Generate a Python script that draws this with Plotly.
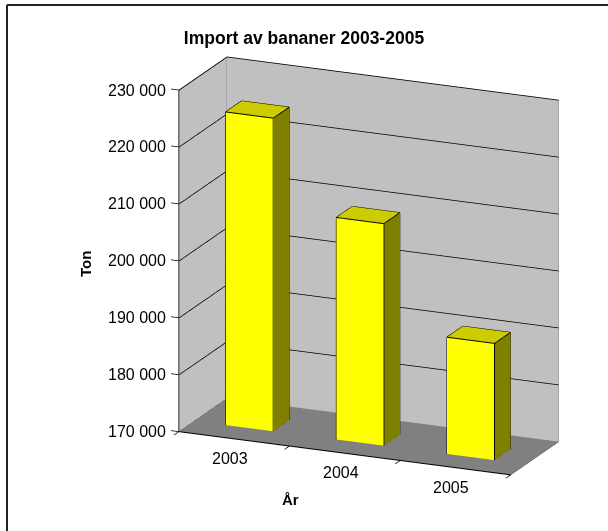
import plotly.graph_objects as go

# ---- data ----
years = ["2003", "2004", "2005"]
values = [225000, 209000, 190500]
y_ticks = [170000, 180000, 190000, 200000, 210000, 220000, 230000]
y_min, y_max = 170000, 230000
title = "Import av bananer 2003-2005"
x_title = "År"
y_title = "Ton"

FRONT = "#FFFF00"
TOP = "#CCCC00"
SIDE = "#808000"
WALL = "#C0C0C0"
FLOOR = "#808080"

n = len(years)
bar_w = 0.43
d0, d1 = 0.32, 0.65
FONT = "Liberation Sans, Arial, sans-serif"
LIGHT = dict(ambient=1, diffuse=0, specular=0, roughness=1, fresnel=0)

fig = go.Figure()


def lines(segs, color, width):
    ex, ey, ez = [], [], []
    for (a, b) in segs:
        ex += [a[0], b[0], None]
        ey += [a[1], b[1], None]
        ez += [a[2], b[2], None]
    fig.add_trace(go.Scatter3d(x=ex, y=ey, z=ez, mode="lines",
                               line=dict(color=color, width=width),
                               hoverinfo="skip", showlegend=False))


def quad(p, color):
    fig.add_trace(go.Mesh3d(
        x=[q[0] for q in p], y=[q[1] for q in p], z=[q[2] for q in p],
        i=[0, 0], j=[1, 2], k=[2, 3], color=color, flatshading=True,
        lighting=LIGHT, hoverinfo="skip", showscale=False))


# walls and floor
quad([(0, 0, y_min), (n, 0, y_min), (n, 1, y_min), (0, 1, y_min)], FLOOR)
quad([(0, 1, y_min), (n, 1, y_min), (n, 1, y_max), (0, 1, y_max)], WALL)
quad([(0, 0, y_min), (0, 1, y_min), (0, 1, y_max), (0, 0, y_max)], WALL)

# gridlines on the walls
eps = 0.004
grid = []
for v in y_ticks[1:]:
    grid.append(((eps, 0, v), (eps, 1 - eps, v)))
    grid.append(((eps, 1 - eps, v), (n, 1 - eps, v)))
lines(grid, "black", 1.5)

# wall edges
lines([((0, 0, y_max), (0, 1, y_max)), ((0, 1, y_max), (n, 1, y_max)),
       ((n, 1, y_max), (n, 1, y_min)), ((0, 1, y_min), (0, 1, y_max)),
       ((0, 1, y_min), (n, 1, y_min)), ((n, 1, y_min), (n, 0, y_min))],
      "#606060", 1.2)
# axis lines
lines([((0, 0, y_min), (0, 0, y_max)), ((0, 0, y_min), (n, 0, y_min)),
       ((0, 0, y_min), (0, 1, y_min))], "black", 2)

# scene ranges (padded a little so nothing sits exactly on a clip bound)
xr = [-0.08, n + 0.01]
yr = [-0.11, 1.01]
pad_z = 0.005 * (y_max - y_min)
zr = [y_min - pad_z, y_max + pad_z]

# tick marks
ticks = [((0, 0, v), (-0.07, 0, v)) for v in y_ticks]
ticks += [((b, 0, y_min), (b, -0.1, y_min)) for b in range(n + 1)]
lines(ticks, "black", 1.5)


def box(xc, val):
    x0, x1 = xc - bar_w / 2, xc + bar_w / 2
    z0, z1 = y_min, val
    X = [x0, x1, x1, x0, x0, x1, x1, x0]
    Y = [d0, d0, d1, d1, d0, d0, d1, d1]
    Z = [z0, z0, z0, z0, z1, z1, z1, z1]
    tris = [
        (0, 1, 5, FRONT), (0, 5, 4, FRONT),
        (4, 5, 6, TOP), (4, 6, 7, TOP),
        (1, 2, 6, SIDE), (1, 6, 5, SIDE),
        (0, 3, 7, SIDE), (0, 7, 4, SIDE),
        (3, 2, 6, FRONT), (3, 6, 7, FRONT),
        (0, 1, 2, TOP), (0, 2, 3, TOP),
    ]
    fig.add_trace(go.Mesh3d(
        x=X, y=Y, z=Z,
        i=[t[0] for t in tris], j=[t[1] for t in tris], k=[t[2] for t in tris],
        facecolor=[t[3] for t in tris], flatshading=True,
        lighting=LIGHT, hoverinfo="skip", showscale=False))
    edges = [(0, 1), (1, 2), (2, 3), (3, 0), (4, 5), (5, 6), (6, 7), (7, 4),
             (0, 4), (1, 5), (2, 6), (3, 7)]
    lines([((X[a], Y[a], Z[a]), (X[b], Y[b], Z[b])) for a, b in edges], "black", 2)


for i, v in enumerate(values):
    box(i + 0.5, v)

fmt = lambda v: f"{v:,}".replace(",", " ")

# tick labels as scene annotations (positioned by the 3D scales)
scene_ann = []
for v in y_ticks:
    scene_ann.append(dict(x=0, y=0, z=v, text=fmt(v), showarrow=False,
                          xanchor="right", yanchor="middle", xshift=-11,
                          font=dict(family=FONT, size=16, color="black")))
for i, yr_lbl in enumerate(years):
    scene_ann.append(dict(x=i + 0.5, y=0, z=y_min, text=yr_lbl, showarrow=False,
                          xanchor="center", yanchor="top", xshift=-4, yshift=-9,
                          font=dict(family=FONT, size=16, color="black")))

K = 1.49
hidden = dict(visible=False, showspikes=False)

fig.update_layout(
    width=608, height=531,
    margin=dict(l=0, r=0, t=0, b=0),
    paper_bgcolor="white",
    showlegend=False,
    hovermode=False,
    font=dict(family=FONT, size=16, color="black"),
    title=dict(text=f"<b>{title}</b>", x=0.5, xanchor="center", y=1 - 38 / 531,
               yanchor="middle", font=dict(size=17.5)),
    scene=dict(
        domain=dict(x=[0.192, 1.0], y=[0.0206, 0.9736]),
        aspectmode="manual",
        aspectratio=dict(x=(xr[1] - xr[0]) / n * K * 0.96,
                         y=(yr[1] - yr[0]) * 0.32 * K,
                         z=0.95 * K * (zr[1] - zr[0]) / (y_max - y_min)),
        camera=dict(eye=dict(x=0.76, y=-1.75, z=0.60), center=dict(x=0, y=0, z=0),
                    up=dict(x=0, y=0, z=1), projection=dict(type="orthographic")),
        xaxis=dict(range=xr, **hidden),
        yaxis=dict(range=yr, **hidden),
        zaxis=dict(range=zr, **hidden),
        bgcolor="rgba(0,0,0,0)",
        annotations=scene_ann,
    ),
    annotations=[
        dict(text=f"<b>{y_title}</b>", textangle=-90, x=85 / 608, y=1 - 264 / 531,
             xref="paper", yref="paper", xanchor="center", yanchor="middle",
             showarrow=False, font=dict(size=15)),
        dict(text=f"<b>{x_title}</b>", x=290 / 608, y=1 - 500 / 531,
             xref="paper", yref="paper", xanchor="center", yanchor="middle",
             showarrow=False, font=dict(size=15)),
    ],
    shapes=[
        dict(type="line", xref="paper", yref="paper", x0=7 / 608, x1=1.01,
             y0=1 - 5 / 531, y1=1 - 5 / 531, line=dict(color="#222222", width=2)),
        dict(type="line", xref="paper", yref="paper", x0=7 / 608, x1=7 / 608,
             y0=-0.01, y1=1 - 5 / 531, line=dict(color="#222222", width=2)),
    ],
)

fig.write_html("out.html", config={"displayModeBar": False},
               post_script="document.body.style.margin='0px';")
